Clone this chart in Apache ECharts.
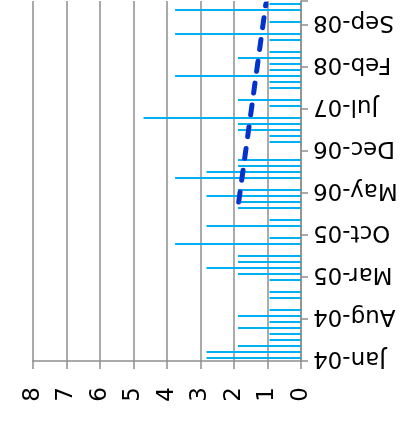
<!DOCTYPE html>
<html>
<head>
<meta charset="utf-8">
<script src="https://cdn.jsdelivr.net/npm/echarts@6/dist/echarts.min.js"></script>
<style>
html,body{margin:0;padding:0;background:#fff;}
#chart{width:409px;height:423px;}
</style>
</head>
<body>
<div id="chart"></div>
<script>
var months = ['Jan-04','Feb-04','Mar-04','Apr-04','May-04','Jun-04','Jul-04','Aug-04','Sep-04','Oct-04','Nov-04','Dec-04',
  'Jan-05','Feb-05','Mar-05','Apr-05','May-05','Jun-05','Jul-05','Aug-05','Sep-05','Oct-05','Nov-05','Dec-05',
  'Jan-06','Feb-06','Mar-06','Apr-06','May-06','Jun-06','Jul-06','Aug-06','Sep-06','Oct-06','Nov-06','Dec-06',
  'Jan-07','Feb-07','Mar-07','Apr-07','May-07','Jun-07','Jul-07','Aug-07','Sep-07','Oct-07','Nov-07','Dec-07',
  'Jan-08','Feb-08','Mar-08','Apr-08','May-08','Jun-08','Jul-08','Aug-08','Sep-08','Oct-08','Nov-08','Dec-08'];

var counts = [2.82,2.82,1.88,0.94,0.94,1.88,0.94,1.88,0.94,0,0.94,0.94,
  0,0.94,1.88,2.82,1.88,1.88,0,3.76,0.94,0,2.82,0.94,
  0,1.88,1.88,2.82,1.88,0,3.76,2.82,1.88,1.88,0,0,
  0.94,0.94,1.88,1.88,4.70,0,0.94,1.88,0,0.94,0.94,3.76,
  0.94,0.94,1.88,0.94,0,0.94,3.76,0,0.94,0,3.76,0.94];

var trendMonths = ['Mar-06','Dec-08'];
var trendValues = [1.86, 1.05];

var valueTicks = [0,1,2,3,4,5,6,7,8];

var gray = '#8e8e8e';
var font = 'DejaVu Sans';

var chart = echarts.init(document.getElementById('chart'), null, {renderer:'canvas'});
chart.setOption({
  animation: false,
  backgroundColor: '#ffffff',
  grid: {left: 33, right: 108, top: 1, bottom: 62, containLabel: false, outerBoundsMode: 'none'},
  xAxis: {
    type: 'value',
    inverse: true,
    position: 'bottom',
    min: valueTicks[0],
    max: valueTicks[valueTicks.length-1],
    interval: 1,
    axisLine: {show: true, lineStyle: {color: gray, width: 1.5}},
    axisTick: {show: true, length: 8, lineStyle: {color: gray, width: 1.5}},
    splitLine: {show: true, lineStyle: {color: gray, width: 1.5}},
    axisLabel: {rotate: 90, margin: 26, fontSize: 23, color: '#000', fontFamily: font}
  },
  yAxis: {
    type: 'category',
    position: 'right',
    data: months,
    boundaryGap: true,
    axisLine: {show: true, onZero: false, lineStyle: {color: gray, width: 1.5}},
    axisTick: {show: true, interval: 6, length: 7, lineStyle: {color: gray, width: 1.5}},
    splitLine: {show: false},
    axisLabel: {interval: 6, rotate: 180, margin: 12, fontSize: 23, color: '#000', fontFamily: font}
  },
  series: [
    {
      type: 'bar',
      data: counts,
      barWidth: 2,
      itemStyle: {color: '#00B0F0'},
      z: 2
    },
    {
      type: 'line',
      data: trendMonths.map(function(m, i){ return [trendValues[i], m]; }),
      symbol: 'none',
      lineStyle: {color: '#0033CC', width: 5, type: [10, 12], cap: 'round'},
      z: 3
    }
  ]
});
</script>
</body>
</html>
